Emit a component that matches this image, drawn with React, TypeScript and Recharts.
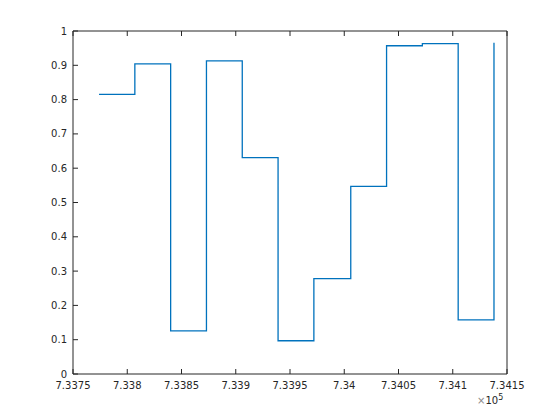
import { LineChart, Line, XAxis, YAxis } from 'recharts'

// stairs() of a monthly-ish date series (MATLAB datenums, 2009)
const dates = [733774, 733807, 733840, 733873, 733906, 733939, 733972, 734006, 734039, 734072, 734105, 734138]
const values = [0.815, 0.904, 0.126, 0.913, 0.631, 0.097, 0.278, 0.547, 0.957, 0.963, 0.158, 0.966]

const xTicks = [733750, 733800, 733850, 733900, 733950, 734000, 734050, 734100, 734150]
const xTickLabels = ['7.3375', '7.338', '7.3385', '7.339', '7.3395', '7.34', '7.3405', '7.341', '7.3415']
const yTicks = [0, 0.1, 0.2, 0.3, 0.4, 0.5, 0.6, 0.7, 0.8, 0.9, 1]
const yTickLabels = ['0', '0.1', '0.2', '0.3', '0.4', '0.5', '0.6', '0.7', '0.8', '0.9', '1']

const data = dates.map((d, i) => ({ d, v: values[i] }))

const AXIS = '#262626'
const tickStyle = { fontSize: 10, fill: AXIS, fontFamily: 'DejaVu Sans' }

export default function App() {
  return (
    <div style={{ position: 'absolute', left: 0, top: 0, width: 560, height: 420, background: '#fff' }}>
      <LineChart
        width={560}
        height={420}
        data={data}
        margin={{ top: 30, right: 52, bottom: 16, left: 33 }}
      >
        <XAxis
          dataKey="d"
          type="number"
          domain={[733750, 734150]}
          ticks={xTicks}
          tickFormatter={(v: number) => xTickLabels[xTicks.indexOf(v)] ?? ''}
          height={30}
          tickSize={-5}
          tickMargin={13}
          interval={0}
          stroke={AXIS}
          tickLine={{ stroke: AXIS }}
          tick={tickStyle}
        />
        <XAxis
          xAxisId="top"
          orientation="top"
          dataKey="d"
          type="number"
          domain={[733750, 734150]}
          ticks={xTicks}
          tickFormatter={() => ''}
          height={1}
          tickSize={-5}
          interval={0}
          stroke={AXIS}
        />
        <YAxis
          type="number"
          domain={[0, 1]}
          ticks={yTicks}
          tickFormatter={(v: number) => yTickLabels[yTicks.indexOf(v)] ?? ''}
          width={40}
          tickSize={-5}
          tickMargin={11}
          interval={0}
          stroke={AXIS}
          tickLine={{ stroke: AXIS }}
          tick={tickStyle}
        />
        <YAxis
          yAxisId="right"
          orientation="right"
          type="number"
          domain={[0, 1]}
          ticks={yTicks}
          tickFormatter={() => ''}
          width={1}
          tickSize={-5}
          interval={0}
          stroke={AXIS}
        />
        <Line
          dataKey="v"
          type="stepAfter"
          stroke="#0072BD"
          strokeWidth={1.3}
          dot={false}
          isAnimationActive={false}
        />
      </LineChart>
      <div
        style={{
          position: 'absolute',
          left: 477,
          top: 393,
          fontFamily: 'DejaVu Sans',
          fontSize: 10,
          color: AXIS,
          whiteSpace: 'nowrap',
        }}
      >
        <span style={{ color: '#8a8a8a' }}>×</span>10<sup style={{ fontSize: 8 }}>5</sup>
      </div>
    </div>
  )
}
